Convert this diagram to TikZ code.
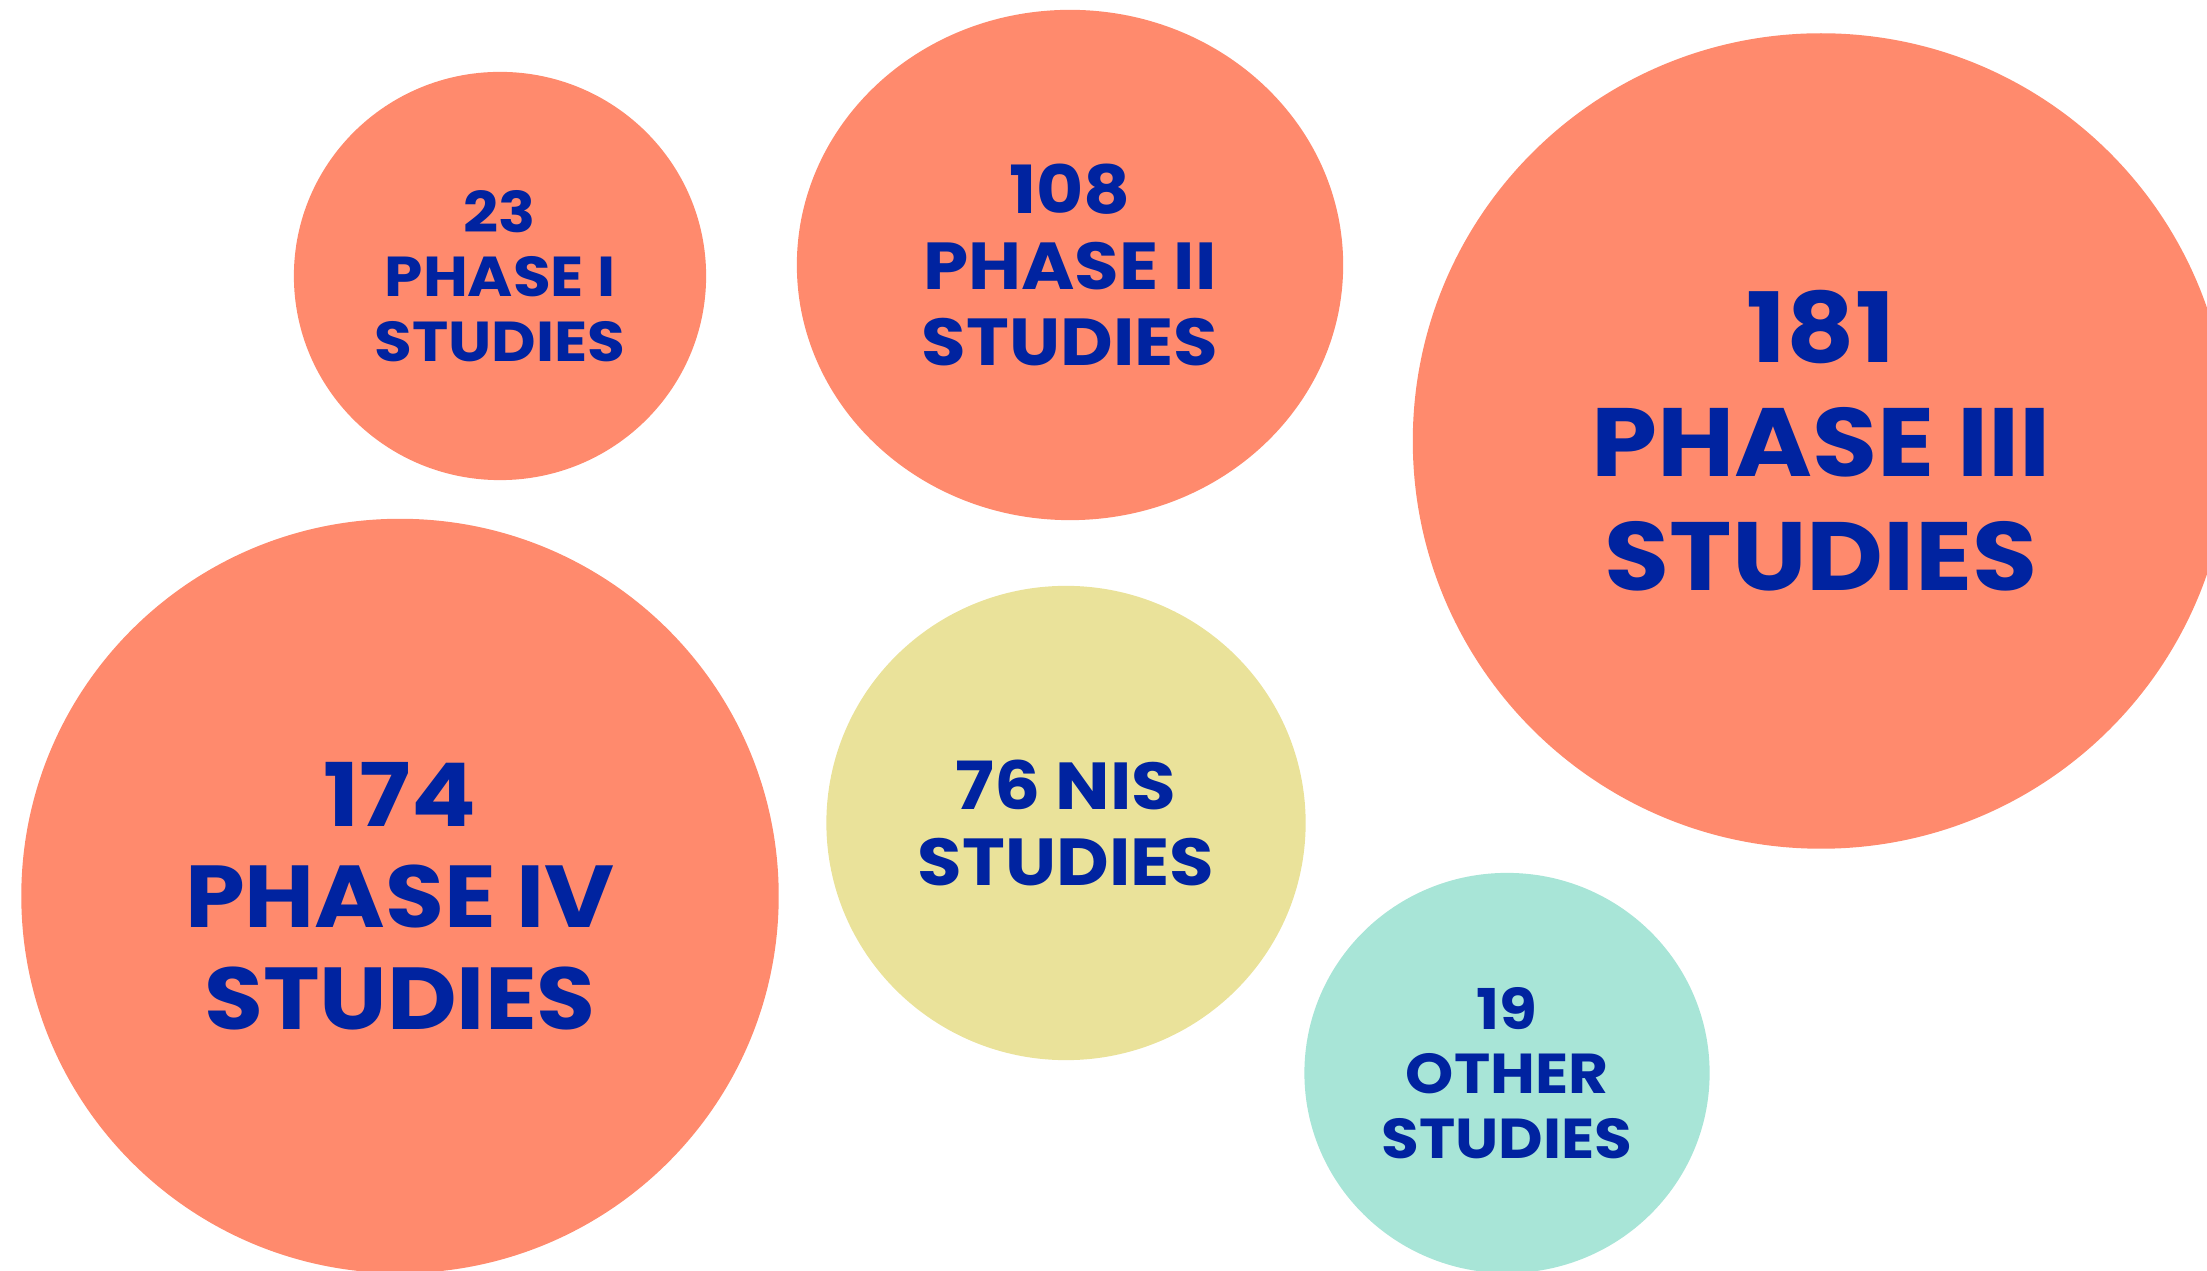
\documentclass[tikz,border=0pt]{standalone}
\usepackage{xcolor}
\usepackage{fontspec}
\setmainfont{Poppins}[FakeStretch=1.09]
\definecolor{phasecoral}{RGB}{255,138,109}
\definecolor{nisyellow}{RGB}{234,226,154}
\definecolor{othermint}{RGB}{168,229,215}
\definecolor{labelblue}{RGB}{0,35,160}
\usetikzlibrary{shapes,positioning}

\begin{document}
\begin{tikzpicture}[
    x=0.01cm, y=-0.01cm,
    bubble/.style={ellipse, inner sep=0pt, align=center, text=labelblue},
    phase/.style={bubble, fill=phasecoral},
    sizeS/.style={font=\fontsize{16}{18.4}\selectfont\bfseries},
    sizeM/.style={font=\fontsize{18.9}{21.6}\selectfont\bfseries},
    sizeL/.style={font=\fontsize{25}{28.8}\selectfont\bfseries},
    sizeXL/.style={font=\fontsize{27.6}{32.4}\selectfont\bfseries}
]

\path[use as bounding box, clip] (0,0) rectangle (2207,1271);

\node[phase, sizeS, minimum width=4.12cm, minimum height=4.08cm] (phaseone) at (500,276) {23\\PHASE I\\STUDIES};
\node[phase, sizeM, minimum width=5.46cm, minimum height=5.10cm] (phasetwo) at (1070,265) {108\\PHASE II\\STUDIES};
\node[phase, sizeXL, minimum width=8.16cm, minimum height=8.15cm] (phasethree) at (1821,441) {181\\PHASE III\\STUDIES};
\node[phase, sizeL, minimum width=7.57cm, minimum height=7.54cm] (phasefour) at (400,896) {174\\PHASE IV\\STUDIES};
\node[bubble, fill=nisyellow, sizeM, minimum width=4.79cm, minimum height=4.74cm] (nis) at (1066,823) {76 NIS\\STUDIES};
\node[bubble, fill=othermint, sizeS, minimum width=4.05cm, minimum height=4.00cm] (other) at (1507,1073) {19\\OTHER\\STUDIES};

\end{tikzpicture}
\end{document}
